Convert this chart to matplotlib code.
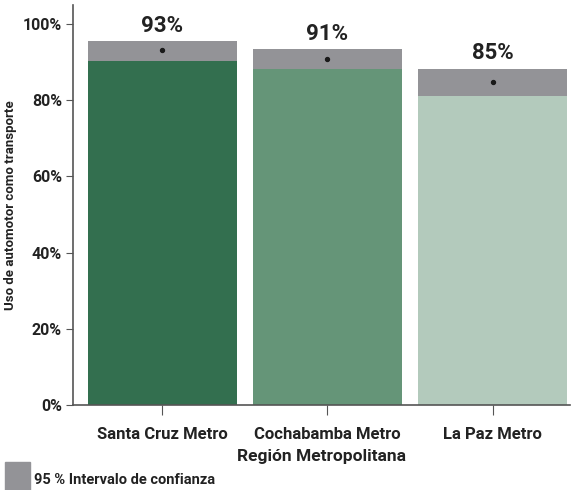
import numpy as np
import matplotlib.pyplot as plt
from matplotlib.patches import Rectangle

plt.rcParams['font.family'] = ['Roboto', 'DejaVu Sans']

regions = ['Santa Cruz Metro', 'Cochabamba Metro', 'La Paz Metro']
estimate = [93.2, 90.8, 84.8]
ci_low = [90.3, 88.2, 81.1]
ci_high = [95.5, 93.4, 88.2]
labels = ['93%', '91%', '85%']
colors = ['#336F4F', '#659578', '#B3CABC']
ci_color = '#939397'

fig = plt.figure(figsize=(5.76, 4.9), dpi=100)
ax = fig.add_axes([0.127, 0.1735, 0.863, 0.8165])

x = np.arange(len(regions))
low = np.array(ci_low)
high = np.array(ci_high)
ax.bar(x, low, width=0.9, color=colors)
ax.bar(x, high - low, bottom=low, width=0.9, color=ci_color)
ax.scatter(x, estimate, s=8, color='#1a1a1a', zorder=3)

for xi, h, lab in zip(x, high, labels):
    ax.text(xi, h + 1.2, lab, ha='center', va='bottom', fontsize=16,
            fontweight='bold', color='#222222')

ax.set_xlim(-0.54, 2.47)
ax.set_ylim(0, 105)
ax.set_yticks([0, 20, 40, 60, 80, 100])
ax.set_yticklabels(['0%', '20%', '40%', '60%', '80%', '100%'])
ax.set_xticks(x)
ax.set_xticklabels(regions)
for lab in ax.get_xticklabels() + ax.get_yticklabels():
    lab.set_fontweight('bold')
    lab.set_color('#222222')
ax.tick_params(axis='y', labelsize=11.5, length=5, color='#555555', pad=3)
ax.tick_params(axis='x', labelsize=12, length=7, color='#555555', pad=9)

ax.set_xlabel('Región Metropolitana', fontsize=12.5, fontweight='bold',
              color='#222222', labelpad=5)
ax.set_ylabel('Uso de automotor como transporte', fontsize=9.5,
              fontweight='bold', color='#222222', labelpad=4)

for side in ['top', 'right']:
    ax.spines[side].set_visible(False)
for side in ['left', 'bottom']:
    ax.spines[side].set_color('#555555')
    ax.spines[side].set_linewidth(1.2)

fig.patches.append(Rectangle((5 / 576, 0), 25 / 576, 28 / 490,
                             transform=fig.transFigure, color=ci_color))
fig.text(34 / 576, 10 / 490, '95 % Intervalo de confianza', fontsize=10.5,
         fontweight='bold', color='#222222', va='center')

fig.savefig('out.png', dpi=100)
